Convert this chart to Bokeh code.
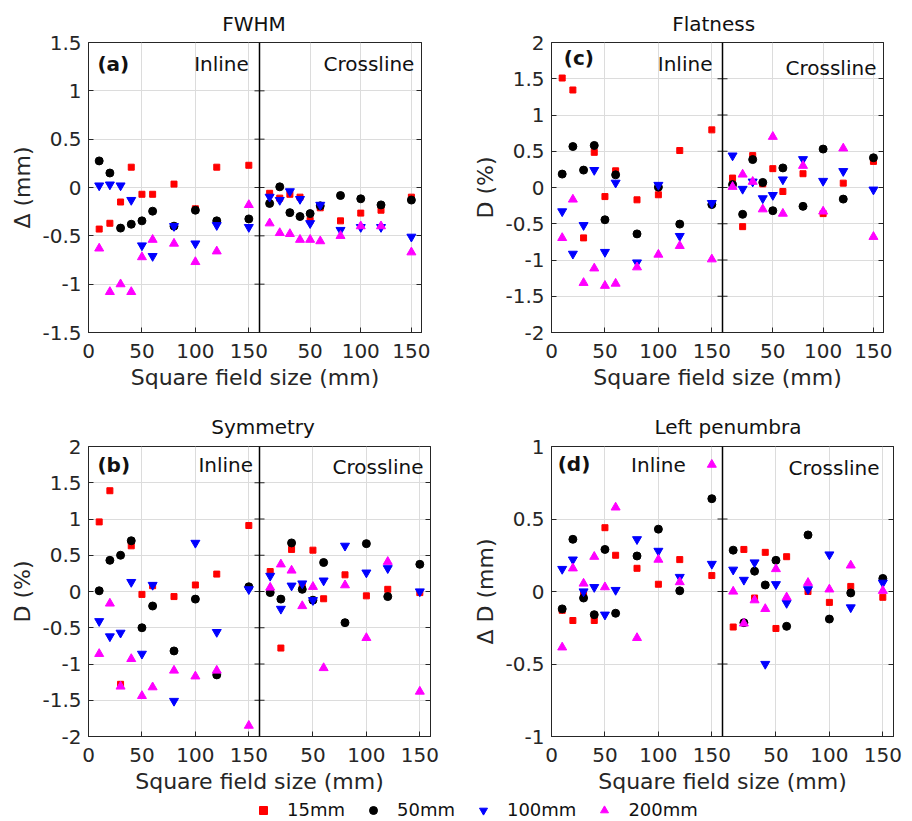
from bokeh.plotting import figure
from bokeh.models import Range1d, FixedTicker, LinearAxis, Span, Label, Legend, LegendItem
from bokeh.layouts import column, row
from bokeh.embed import file_html
from bokeh.resources import INLINE

# ---------------- data ----------------
FIELD = [10, 20, 30, 40, 50, 60, 80, 100, 120, 150]
SERIES = ["15mm", "50mm", "100mm", "200mm"]

FWHM_IN_15 = [-0.43, -0.37, -0.15, 0.21, -0.07, -0.07, 0.035, -0.22, 0.21, 0.23]
FWHM_IN_50 = [0.275, 0.15, -0.42, -0.38, -0.345, -0.245, -0.40, -0.235, -0.345, -0.325]
FWHM_IN_100 = [0.02, 0.03, 0.02, -0.13, -0.60, -0.71, -0.40, -0.58, -0.39, -0.41]
FWHM_IN_200 = [-0.63, -1.08, -1.0, -1.08, -0.72, -0.54, -0.58, -0.77, -0.66, -0.18]
FWHM_CR_15 = [-0.06, -0.11, -0.07, -0.10, -0.34, -0.21, -0.345, -0.265, -0.235, -0.10]
FWHM_CR_50 = [-0.165, 0.007, -0.26, -0.30, -0.27, -0.19, -0.083, -0.117, -0.18, -0.13]
FWHM_CR_100 = [-0.097, -0.13, -0.04, -0.12, -0.37, -0.18, -0.44, -0.41, -0.41, -0.51]
FWHM_CR_200 = [-0.37, -0.47, -0.48, -0.54, -0.54, -0.555, -0.50, -0.40, -0.40, -0.67]

FLAT_IN_15 = [1.51, 1.345, -0.695, 0.485, -0.125, 0.23, -0.17, -0.10, 0.51, 0.795]
FLAT_IN_50 = [0.185, 0.565, 0.24, 0.58, -0.445, 0.175, -0.64, 0.005, -0.505, -0.235]
FLAT_IN_100 = [-0.33, -0.915, -0.52, 0.24, -0.89, 0.065, -1.035, 0.035, -0.67, -0.215]
FLAT_IN_200 = [-0.695, -0.165, -1.315, -1.115, -1.355, -1.325, -1.10, -0.925, -0.805, -0.99]
FLAT_CR_15 = [0.13, -0.54, 0.44, 0.05, 0.26, -0.055, 0.19, -0.36, 0.06, 0.36]
FLAT_CR_50 = [0.04, -0.37, 0.385, 0.07, -0.32, 0.27, -0.26, 0.53, -0.16, 0.41]
FLAT_CR_100 = [0.44, -0.02, 0.08, -0.15, -0.105, 0.11, 0.39, 0.09, 0.225, -0.03]
FLAT_CR_200 = [0.01, 0.18, 0.08, -0.30, 0.70, -0.36, 0.30, -0.33, 0.54, -0.68]

SYM_IN_15 = [0.96, 1.39, -1.28, 0.63, -0.04, 0.08, -0.07, 0.09, 0.24, 0.91]
SYM_IN_50 = [0.01, 0.43, 0.50, 0.70, -0.50, -0.20, -0.82, -0.105, -1.15, 0.065]
SYM_IN_100 = [-0.41, -0.62, -0.57, 0.13, -0.86, 0.09, -1.51, 0.67, -0.56, 0.03]
SYM_IN_200 = [-0.86, -0.165, -1.31, -0.93, -1.44, -1.32, -1.09, -1.17, -1.09, -1.85]
SYM_CR_15 = [0.275, -0.78, 0.58, 0.08, 0.57, -0.10, 0.23, -0.06, 0.03, -0.015]
SYM_CR_50 = [-0.015, -0.105, 0.67, 0.03, -0.12, 0.40, -0.43, 0.66, -0.07, 0.375]
SYM_CR_100 = [0.215, -0.24, 0.08, 0.11, -0.12, 0.15, 0.63, 0.26, 0.32, 0.0]
SYM_CR_200 = [0.055, 0.375, 0.29, -0.20, 0.065, -1.055, 0.087, -0.64, 0.41, -1.38]

PEN_IN_15 = [-0.13, -0.20, -0.01, -0.20, 0.44, 0.25, 0.16, 0.05, 0.22, 0.11]
PEN_IN_50 = [-0.12, 0.36, -0.045, -0.16, 0.29, -0.15, 0.245, 0.43, 0.005, 0.64]
PEN_IN_100 = [0.155, 0.22, 0.0, 0.03, -0.16, 0.01, 0.36, 0.28, 0.10, 0.19]
PEN_IN_200 = [-0.385, 0.16, 0.055, 0.24, 0.03, 0.58, -0.32, 0.22, 0.065, 0.875]
PEN_CR_15 = [-0.245, 0.29, -0.045, 0.27, -0.255, 0.24, 0.0, -0.075, 0.035, -0.04]
PEN_CR_50 = [0.285, -0.215, 0.14, 0.045, 0.215, -0.24, 0.39, -0.19, -0.01, 0.09]
PEN_CR_100 = [0.15, 0.08, 0.20, -0.50, 0.05, -0.08, 0.015, 0.255, -0.11, 0.06]
PEN_CR_200 = [0.0, -0.22, -0.06, -0.12, 0.155, -0.04, 0.06, 0.015, 0.18, 0.005]

X_TICKS = [0, 50, 100, 150]
X_TICK_LABELS = ["0", "50", "100", "150"]
CROSS_TICKS = [50, 100, 150]
CROSS_TICK_LABELS = ["50", "100", "150"]
Y_TICKS_15 = [-1.5, -1, -0.5, 0, 0.5, 1, 1.5]
Y_LABELS_15 = ["-1.5", "-1", "-0.5", "0", "0.5", "1", "1.5"]
Y_TICKS_2 = [-2, -1.5, -1, -0.5, 0, 0.5, 1, 1.5, 2]
Y_LABELS_2 = ["-2", "-1.5", "-1", "-0.5", "0", "0.5", "1", "1.5", "2"]
Y_TICKS_1 = [-1, -0.5, 0, 0.5, 1]
Y_LABELS_1 = ["-1", "-0.5", "0", "0.5", "1"]

# ---------------- style ----------------
FONT = "DejaVu Sans"
AX = "#262626"
GRID = "#dcdcdc"
HALF = 160.0
FRAME_H = 290
STYLES = [("square", 6, "#ff0000"), ("circle", 8, "#000000"),
          ("inverted_triangle", 9, "#0000ff"), ("triangle", 9, "#ff00ff")]

PANELS = [
    dict(title="FWHM", letter="(a)", ylabel="Δ (mm)", ylo=-1.5, yhi=1.5,
         yticks=Y_TICKS_15, ylabels=Y_LABELS_15,
         inline=[FWHM_IN_15, FWHM_IN_50, FWHM_IN_100, FWHM_IN_200],
         cross=[FWHM_CR_15, FWHM_CR_50, FWHM_CR_100, FWHM_CR_200],
         x0=0, y0=0, w=450, h=400, L=88, D=259, R=421, top=42,
         title_left=221.7, title_gap=14,
         letter_x=8.4, letter_y=1.28, in_x=150, in_y=1.28, cr_x=153, cr_y=1.28),
    dict(title="Flatness", letter="(c)", ylabel="D (%)", ylo=-2, yhi=2,
         yticks=Y_TICKS_2, ylabels=Y_LABELS_2,
         inline=[FLAT_IN_15, FLAT_IN_50, FLAT_IN_100, FLAT_IN_200],
         cross=[FLAT_CR_15, FLAT_CR_50, FLAT_CR_100, FLAT_CR_200],
         x0=450, y0=0, w=462, h=400, L=551, D=722, R=883, top=42,
         title_left=671.7, title_gap=14,
         letter_x=11.5, letter_y=1.78, in_x=150.6, in_y=1.71, cr_x=153, cr_y=1.655),
    dict(title="Symmetry", letter="(b)", ylabel="D (%)", ylo=-2, yhi=2,
         yticks=Y_TICKS_2, ylabels=Y_LABELS_2,
         inline=[SYM_IN_15, SYM_IN_50, SYM_IN_100, SYM_IN_200],
         cross=[SYM_CR_15, SYM_CR_50, SYM_CR_100, SYM_CR_200],
         x0=0, y0=400, w=450, h=400, L=88, D=259, R=430, top=446,
         title_left=210.7, title_gap=16,
         letter_x=8.4, letter_y=1.75, in_x=154, in_y=1.75, cr_x=153.4, cr_y=1.72),
    dict(title="Left penumbra", letter="(d)", ylabel="Δ D (mm)", ylo=-1, yhi=1,
         yticks=Y_TICKS_1, ylabels=Y_LABELS_1,
         inline=[PEN_IN_15, PEN_IN_50, PEN_IN_100, PEN_IN_200],
         cross=[PEN_CR_15, PEN_CR_50, PEN_CR_100, PEN_CR_200],
         x0=450, y0=400, w=462, h=400, L=551, D=722, R=893, top=446,
         title_left=654, title_gap=16,
         letter_x=5.8, letter_y=0.88, in_x=125.6, in_y=0.874, cr_x=146.9, cr_y=0.853),
]


def build_panel(c):
    L, D, R = c["L"], c["D"], c["R"]
    s_i = (D - L) / HALF
    s_c = (R - D) / HALF
    top_b = c["top"] - c["y0"]
    p = figure(width=c["w"], height=c["h"],
               x_range=Range1d(0, (R - L) / s_i),
               y_range=Range1d(c["ylo"], c["yhi"]),
               min_border_left=L - c["x0"], min_border_right=c["x0"] + c["w"] - R,
               min_border_top=top_b, min_border_bottom=c["h"] - top_b - FRAME_H,
               toolbar_location=None, output_backend="svg", title=c["title"])
    p.extra_x_ranges = {"cross": Range1d(-(D - L) / s_c, HALF)}

    # title
    p.title.align = "left"
    p.title.offset = c["title_left"] - L
    p.title.standoff = c["title_gap"]
    p.title.text_font = FONT
    p.title.text_font_size = "20px"
    p.title.text_font_style = "normal"
    p.title.text_color = "#111111"

    # x axis (inline ticks + crossline ticks mapped onto the panel)
    cross_pos = [(D - L + v * s_c) / s_i for v in CROSS_TICKS]
    xt = FixedTicker(ticks=X_TICKS + cross_pos)
    overrides = dict(zip(X_TICKS, X_TICK_LABELS))
    overrides.update(dict(zip(cross_pos, CROSS_TICK_LABELS)))
    xa = p.xaxis[0]
    xa.ticker = xt
    xa.major_label_overrides = overrides
    xa.axis_label = "Square field size (mm)"
    ya = p.yaxis[0]
    yt = FixedTicker(ticks=c["yticks"])
    ya.ticker = yt
    ya.major_label_overrides = dict(zip(c["yticks"], c["ylabels"]))
    ya.axis_label = c["ylabel"]
    for a in (xa, ya):
        a.major_tick_in = 5
        a.major_tick_out = 0
        a.minor_tick_line_color = None
        a.axis_line_color = AX
        a.major_tick_line_color = AX
        a.major_label_text_font = FONT
        a.major_label_text_font_size = "20px"
        a.major_label_text_color = AX
        a.axis_label_text_font = FONT
        a.axis_label_text_font_size = "22px"
        a.axis_label_text_font_style = "normal"
        a.axis_label_text_color = AX
    xa.major_label_standoff = 11
    xa.axis_label_standoff = 4
    ya.major_label_standoff = 7
    ya.axis_label_standoff = 4

    ra = LinearAxis(ticker=FixedTicker(ticks=c["yticks"]),
                    major_label_overrides={t: "" for t in c["yticks"]},
                    major_tick_in=5, major_tick_out=0, minor_tick_line_color=None,
                    major_label_text_font_size="0px", major_label_standoff=0,
                    axis_line_color=AX, major_tick_line_color=AX)
    p.add_layout(ra, "right")

    p.xgrid.ticker = xt
    p.ygrid.ticker = yt
    p.xgrid.grid_line_color = GRID
    p.ygrid.grid_line_color = GRID
    p.outline_line_color = AX
    p.outline_line_width = 1

    # divider between inline and crossline halves
    p.add_layout(Span(location=HALF, dimension="height", line_color="black", line_width=1.5))
    tl = 5 / s_i
    n = len(c["yticks"])
    p.segment(x0=[HALF - tl] * n, x1=[HALF + tl] * n, y0=c["yticks"], y1=c["yticks"],
              line_color=AX, line_width=1)

    # data
    for (marker, size, color), vals in zip(STYLES, c["inline"]):
        p.scatter(x=FIELD, y=vals, marker=marker, size=size, fill_color=color,
                  line_color=color, line_width=1)
    for (marker, size, color), vals in zip(STYLES, c["cross"]):
        p.scatter(x=FIELD, y=vals, marker=marker, size=size, fill_color=color,
                  line_color=color, line_width=1, x_range_name="cross")

    common = dict(text_font=FONT, text_font_size="20px", text_baseline="middle",
                  text_color="#111111")
    p.add_layout(Label(x=c["letter_x"], y=c["letter_y"], text=c["letter"],
                       text_align="left", text_font_style="bold", **common))
    p.add_layout(Label(x=c["in_x"], y=c["in_y"], text="Inline", text_align="right", **common))
    p.add_layout(Label(x=c["cr_x"], y=c["cr_y"], text="Crossline", text_align="right",
                       x_range_name="cross", **common))
    return p


figs = [build_panel(c) for c in PANELS]

# legend strip: the series are plotted here outside the visible range, only their
# legend glyphs show
lg = figure(width=912, height=20, toolbar_location=None, output_backend="svg",
            x_range=Range1d(-2, -1), y_range=Range1d(-2, -1),
            x_axis_location=None, y_axis_location=None, min_border=0)
lg.grid.visible = False
lg.outline_line_color = None
items = []
for (marker, size, color), name, vals in zip(STYLES, SERIES, PANELS[0]["inline"]):
    r = lg.scatter(x=FIELD, y=vals, marker=marker, size=size, fill_color=color,
                   line_color=color, line_width=1)
    items.append(LegendItem(label=name, renderers=[r]))
legend = Legend(items=items, orientation="horizontal", location=(253, 0),
                padding=0, margin=0, spacing=18, glyph_width=20, glyph_height=20,
                label_standoff=14, label_text_font=FONT, label_text_font_size="18px",
                label_text_color="#111111", border_line_alpha=0, background_fill_alpha=0)
lg.add_layout(legend)

layout = column(row(figs[0], figs[1]), row(figs[2], figs[3]), lg)

open("out.html", "w").write(file_html(layout, INLINE))
